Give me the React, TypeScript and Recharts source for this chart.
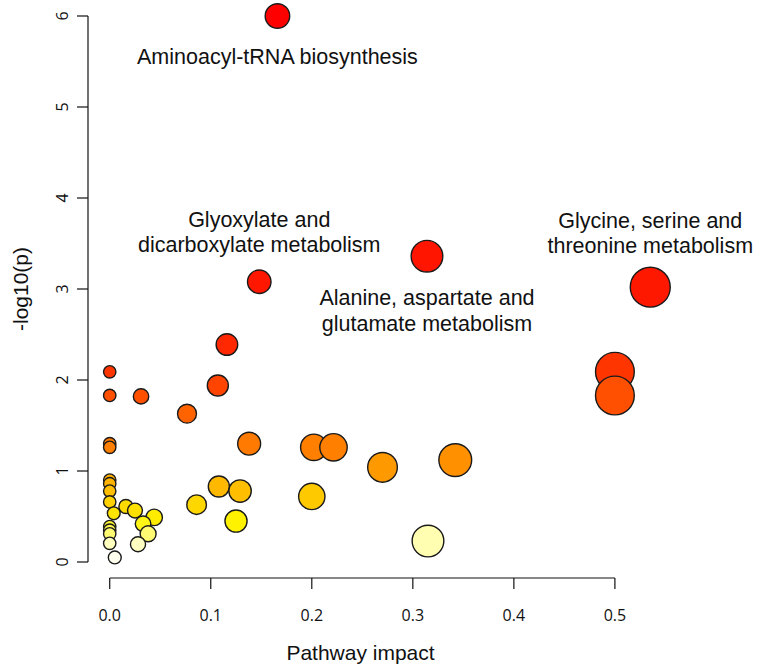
import React from 'react';
import { ScatterChart, Scatter, XAxis, YAxis, ZAxis, Cell, ReferenceLine } from 'recharts';

// Pathway impact (x) and -log10(p) (y)
const impact = [
  0.166, 0.314, 0.148, 0.535, 0.116, 0.0, 0.5, 0.107, 0.0, 0.5, 0.031, 0.0765,
  0.0, 0.138, 0.0, 0.202, 0.2215, 0.342, 0.27, 0.0, 0.0, 0.108, 0.129, 0.0,
  0.2, 0.0, 0.086, 0.016, 0.025, 0.004, 0.044, 0.125, 0.033, 0.0, 0.0, 0.038,
  0.0, 0.315, 0.0, 0.028, 0.005,
];
const negLogP = [
  6.0, 3.36, 3.08, 3.02, 2.39, 2.09, 2.09, 1.94, 1.83, 1.83, 1.82, 1.63,
  1.30, 1.30, 1.26, 1.26, 1.26, 1.12, 1.04, 0.90, 0.86, 0.83, 0.78, 0.78,
  0.72, 0.66, 0.63, 0.61, 0.565, 0.535, 0.49, 0.45, 0.42, 0.39, 0.35, 0.31,
  0.31, 0.23, 0.205, 0.195, 0.05,
];

const xTicks = [0, 0.1, 0.2, 0.3, 0.4, 0.5];
const yTicks = [0, 1, 2, 3, 4, 5, 6];

// annotated pathways
const annotIndex = [0, 2, 1, 3];
const annotLines = [
  ['Aminoacyl-tRNA biosynthesis'],
  ['Glyoxylate and', 'dicarboxylate metabolism'],
  ['Alanine, aspartate and', 'glutamate metabolism'],
  ['Glycine, serine and', 'threonine metabolism'],
];
const annotOffsets = [[41], [-62, -37], [42, 68], [-66, -41]];

const X_DOMAIN: [number, number] = [-0.0215, 0.5575];
const Y_DOMAIN: [number, number] = [-0.1758, 6.1758];

const points = impact.map((x, i) => ({ x, y: negLogP[i], z: x }));
const annots = annotIndex.map((idx, k) => ({ x: impact[idx], y: negLogP[idx], z: 0, k }));

const stops: [number, number, number, number][] = [
  [0.0, 255, 255, 255],
  [0.22, 255, 255, 185],
  [0.45, 255, 242, 0],
  [0.63, 255, 215, 0],
  [0.8, 255, 188, 0],
  [1.05, 255, 152, 0],
  [1.3, 255, 122, 0],
  [1.65, 255, 98, 0],
  [1.9, 255, 72, 0],
  [2.1, 255, 52, 0],
  [2.4, 255, 40, 0],
  [3.0, 255, 24, 0],
  [6.0, 255, 0, 0],
];
function heat(v: number): string {
  if (v <= stops[0][0]) return 'rgb(255,255,255)';
  for (let i = 1; i < stops.length; i++) {
    if (v <= stops[i][0]) {
      const a = stops[i - 1];
      const b = stops[i];
      const t = (v - a[0]) / (b[0] - a[0]);
      const c = [1, 2, 3].map((j) => Math.round(a[j] + (b[j] - a[j]) * t));
      return `rgb(${c[0]},${c[1]},${c[2]})`;
    }
  }
  return 'rgb(255,0,0)';
}

const TICK_FONT = '"Open Sans", "Noto Sans", sans-serif';
const TEXT_FONT = '"Liberation Sans", Arial, sans-serif';

const XTick = (props: any) => {
  const { x, y, payload } = props;
  return (
    <text x={x} y={y + 24} textAnchor="middle" dominantBaseline="central" fontFamily={TICK_FONT} fontSize={16} fill="#111">
      {Number(payload.value).toFixed(1)}
    </text>
  );
};

const YTick = (props: any) => {
  const { x, y, payload } = props;
  const cx = x - 13;
  return (
    <text x={cx} y={y} transform={`rotate(-90 ${cx} ${y})`} textAnchor="middle" dominantBaseline="central" fontFamily={TICK_FONT} fontSize={16} fill="#111">
      {payload.value}
    </text>
  );
};

const AnnotShape = (props: any) => {
  const { cx, cy, payload } = props;
  const k = payload.k;
  return (
    <g>
      {annotLines[k].map((line, j) => (
        <text key={j} x={cx} y={cy + annotOffsets[k][j]} textAnchor="middle" dominantBaseline="central" fontFamily={TEXT_FONT} fontSize={21.5} fill="#111">
          {line}
        </text>
      ))}
    </g>
  );
};

export default function App() {
  return (
    <div style={{ position: 'absolute', left: 0, top: 0, width: 764, height: 668, background: '#fff' }}>
      <ScatterChart width={764} height={668} margin={{ top: 0, right: 91, bottom: 0, left: 0 }}>
        <XAxis
          type="number"
          dataKey="x"
          domain={X_DOMAIN}
          ticks={xTicks}
          interval={0}
          height={90}
          axisLine={false}
          tickSize={11}
          tickLine={{ stroke: '#111', strokeWidth: 1.2 }}
          tick={<XTick />}
          label={{
            content: (p: any) => {
              const vb = p.viewBox;
              return (
                <text x={vb.x + vb.width / 2 - 20} y={660} textAnchor="middle" fontFamily={TEXT_FONT} fontSize={21} fill="#111">
                  Pathway impact
                </text>
              );
            },
          }}
        />
        <YAxis
          type="number"
          dataKey="y"
          domain={Y_DOMAIN}
          ticks={yTicks}
          interval={0}
          width={88}
          axisLine={false}
          tickSize={11}
          tickLine={{ stroke: '#111', strokeWidth: 1.2 }}
          tick={<YTick />}
          label={{
            content: (p: any) => {
              const vb = p.viewBox;
              const cx = vb.x + 20;
              const cy = vb.y + vb.height / 2;
              return (
                <text x={cx} y={cy} transform={`rotate(-90 ${cx} ${cy})`} textAnchor="middle" dominantBaseline="central" fontFamily={TEXT_FONT} fontSize={21} fill="#111">
                  -log10(p)
                </text>
              );
            },
          }}
        />
        <ZAxis type="number" dataKey="z" domain={[0, 0.536]} range={[120, 1257]} />
        <ReferenceLine
          segment={[{ x: 0, y: Y_DOMAIN[0] }, { x: 0.5, y: Y_DOMAIN[0] }]}
          stroke="#111"
          strokeWidth={1.2}
          ifOverflow="visible"
        />
        <ReferenceLine
          segment={[{ x: X_DOMAIN[0], y: 0 }, { x: X_DOMAIN[0], y: 6 }]}
          stroke="#111"
          strokeWidth={1.2}
          ifOverflow="visible"
        />
        <Scatter data={points} isAnimationActive={false} stroke="#1a1a1a" strokeWidth={1.4}>
          {points.map((p, i) => (
            <Cell key={i} fill={heat(p.y)} />
          ))}
        </Scatter>
        <Scatter data={annots} isAnimationActive={false} shape={<AnnotShape />} />
      </ScatterChart>
    </div>
  );
}
